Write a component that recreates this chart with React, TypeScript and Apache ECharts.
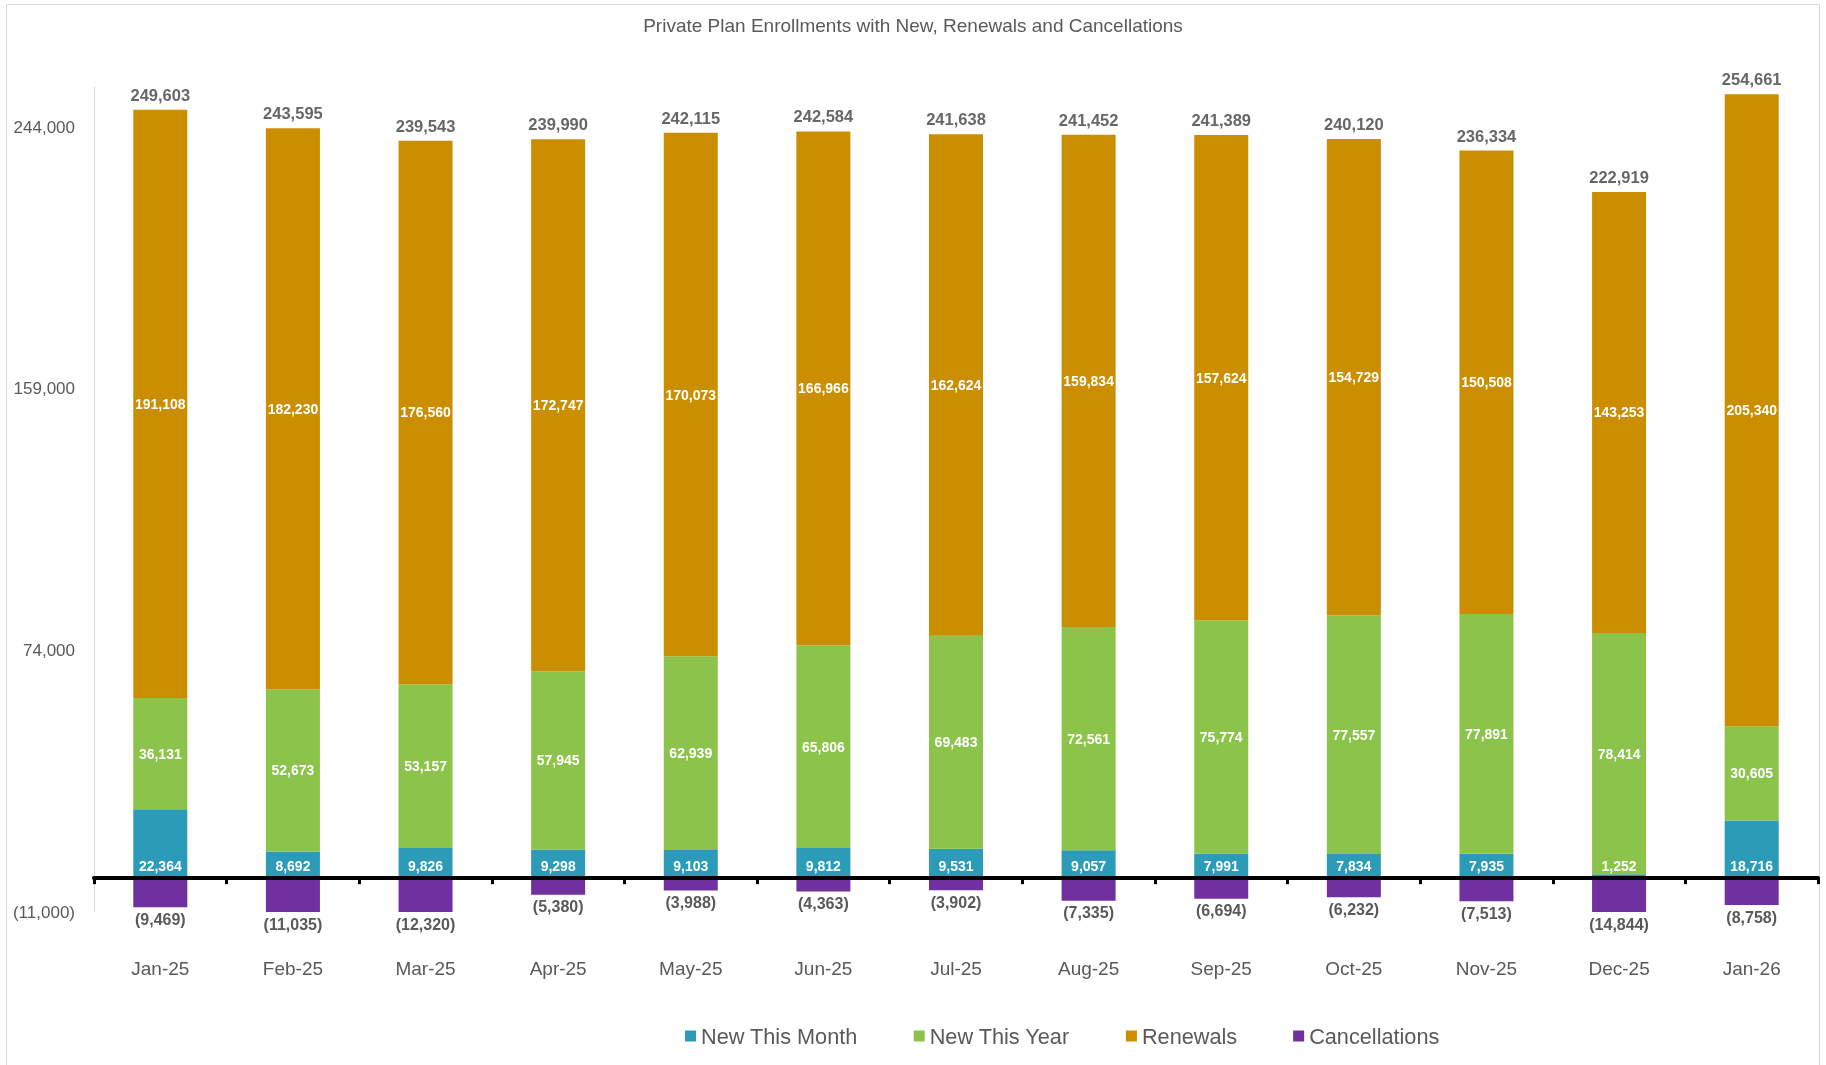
import React, { useEffect, useRef } from "react";
import * as echarts from "echarts";

const categories = ["Jan-25", "Feb-25", "Mar-25", "Apr-25", "May-25", "Jun-25", "Jul-25", "Aug-25", "Sep-25", "Oct-25", "Nov-25", "Dec-25", "Jan-26"];
const newThisMonth = [22364, 8692, 9826, 9298, 9103, 9812, 9531, 9057, 7991, 7834, 7935, 1252, 18716];
const newThisYear = [36131, 52673, 53157, 57945, 62939, 65806, 69483, 72561, 75774, 77557, 77891, 78414, 30605];
const renewals = [191108, 182230, 176560, 172747, 170073, 166966, 162624, 159834, 157624, 154729, 150508, 143253, 205340];
const cancellations = [-9469, -11035, -12320, -5380, -3988, -4363, -3902, -7335, -6694, -6232, -7513, -14844, -8758];
const totals = [249603, 243595, 239543, 239990, 242115, 242584, 241638, 241452, 241389, 240120, 236334, 222919, 254661];

const yMin = -11000;
const yMax = 257000;
const yInterval = 85000;

const TITLE = "Private Plan Enrollments with New, Renewals and Cancellations";
const FONT = "'Liberation Sans', Arial, sans-serif";

const fmt = (v: number) =>
  v < 0 ? `(${Math.abs(v).toLocaleString("en-US")})` : v.toLocaleString("en-US");

export default function App() {
  const ref = useRef<HTMLDivElement>(null);
  useEffect(() => {
    if (!ref.current) return;
    const chart = echarts.init(ref.current, undefined, { renderer: "svg" });
    const whiteLabel = {
      show: true,
      color: "#ffffff",
      fontWeight: "bold" as const,
      fontSize: 14,
      fontFamily: FONT,
      formatter: (p: any) => fmt(p.value),
    };
    chart.setOption({
      animation: false,
      textStyle: { fontFamily: FONT },
      title: {
        text: TITLE,
        left: "center",
        top: 11,
        textStyle: { fontSize: 19, fontWeight: "normal", color: "#595959", fontFamily: FONT },
      },
      legend: {
        data: ["New This Month", "New This Year", "Renewals", "Cancellations"],
        left: 680,
        top: 1020,
        icon: "rect",
        itemWidth: 11,
        itemHeight: 11,
        itemGap: 56,
        textStyle: { fontSize: 21.7, color: "#595959", fontFamily: FONT },
      },
      grid: { left: 94, right: 8, top: 87, bottom: 153, containLabel: false },
      graphic: [
        {
          type: "rect",
          silent: true,
          z: -10,
          shape: { x: 6.5, y: 4.5, width: 1813, height: 1100 },
          style: { fill: "none", stroke: "#D9D9D9", lineWidth: 1 },
        },
      ],
      xAxis: [
        {
          type: "category",
          data: categories,
          position: "top",
          axisLine: { show: true, onZero: true, lineStyle: { color: "#000000", width: 4 } },
          axisTick: { show: true, inside: true, length: 6, lineStyle: { color: "#000000", width: 3 } },
          axisLabel: { show: false },
          splitLine: { show: false },
          z: 10,
        },
        {
          type: "category",
          data: categories,
          position: "bottom",
          axisLine: { show: false, onZero: false },
          axisTick: { show: false },
          axisLabel: { fontSize: 19, color: "#595959", margin: 47, fontFamily: FONT },
          splitLine: { show: false },
        },
      ],
      yAxis: {
        type: "value",
        min: yMin,
        max: yMax,
        interval: yInterval,
        axisLine: { show: true, lineStyle: { color: "#D9D9D9", width: 1 } },
        axisTick: { show: false },
        splitLine: { show: false },
        axisLabel: {
          formatter: (v: number) => fmt(v),
          fontSize: 17,
          color: "#595959",
          margin: 19,
          showMaxLabel: false,
          fontFamily: FONT,
        },
      },
      series: [
        {
          name: "New This Month",
          type: "bar",
          stack: "s",
          xAxisIndex: 0,
          barWidth: 54,
          data: newThisMonth,
          itemStyle: { color: "#2B9BB8" },
          label: { ...whiteLabel, position: "insideBottom", distance: 5 },
        },
        {
          name: "New This Year",
          type: "bar",
          stack: "s",
          xAxisIndex: 0,
          barWidth: 54,
          data: newThisYear,
          itemStyle: { color: "#8CC34B" },
          label: { ...whiteLabel, position: "inside" },
        },
        {
          name: "Renewals",
          type: "bar",
          stack: "s",
          xAxisIndex: 0,
          barWidth: 54,
          data: renewals,
          itemStyle: { color: "#CB8E00" },
          label: { ...whiteLabel, position: "inside" },
        },
        {
          name: "Cancellations",
          type: "bar",
          stack: "s",
          xAxisIndex: 0,
          barWidth: 54,
          data: cancellations,
          itemStyle: { color: "#7030A0" },
          label: {
            show: true,
            position: "bottom",
            distance: 4,
            color: "#595959",
            fontWeight: "bold",
            fontSize: 16,
            fontFamily: FONT,
            formatter: (p: any) => fmt(p.value),
          },
        },
        {
          name: "Total",
          type: "scatter",
          xAxisIndex: 0,
          data: totals,
          symbolSize: 1,
          itemStyle: { color: "rgba(0,0,0,0)" },
          label: {
            show: true,
            position: "top",
            distance: 6,
            color: "#404040",
            fontWeight: "bold",
            fontSize: 16.5,
            fontFamily: FONT,
            formatter: (p: any) => fmt(p.value),
          },
          z: 5,
        },
      ],
    });
    return () => chart.dispose();
  }, []);
  return <div ref={ref} style={{ position: "fixed", left: 0, top: 0, width: 1826, height: 1065 }} />;
}
